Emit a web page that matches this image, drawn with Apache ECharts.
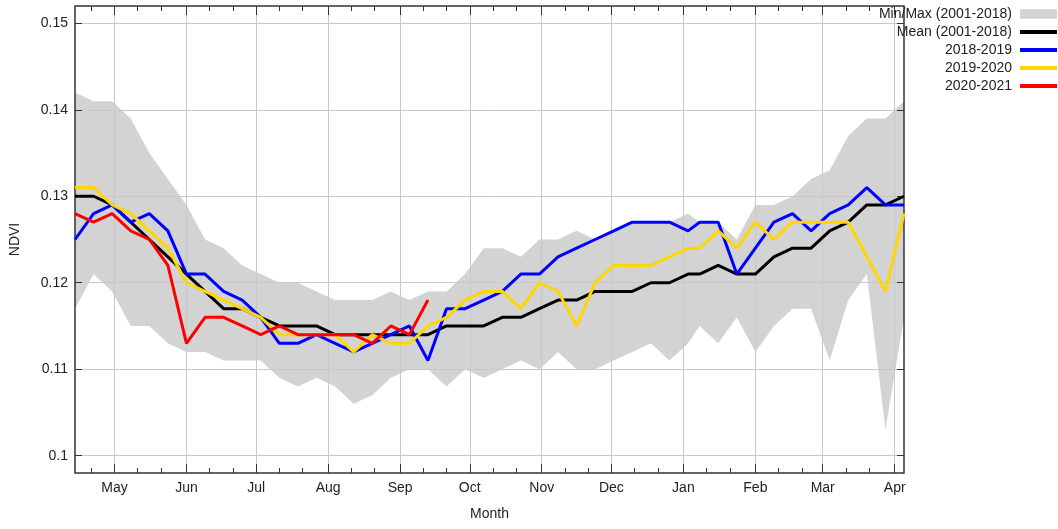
<!DOCTYPE html>
<html>
<head>
<meta charset="utf-8">
<title>NDVI</title>
<script src="https://cdn.jsdelivr.net/npm/echarts@6/dist/echarts.min.js"></script>
<style>
  html, body { margin: 0; padding: 0; background: #fff; }
  #chart { width: 1058px; height: 529px; }
</style>
</head>
<body>
<div id="chart"></div>
<script>
// 8-day composites (day of year), season runs into the next year
const compositeDoy = [
  97, 105, 113, 121, 129, 137, 145, 153, 161, 169, 177, 185, 193, 201, 209, 217, 225,
  233, 241, 249, 257, 265, 273, 281, 289, 297, 305, 313, 321, 329, 337, 345, 353, 361,
  1, 9, 17, 25, 33, 41, 49, 57, 65, 73, 81, 89
]

const maxNdvi = [
  0.142, 0.141, 0.141, 0.139, 0.135, 0.132, 0.129, 0.125, 0.124, 0.122,
  0.121, 0.120, 0.120, 0.119, 0.118, 0.118, 0.118, 0.119, 0.118, 0.119,
  0.119, 0.121, 0.124, 0.124, 0.123, 0.125, 0.125, 0.126, 0.125, 0.126,
  0.127, 0.127, 0.127, 0.128, 0.127, 0.127, 0.125, 0.129, 0.129, 0.130,
  0.132, 0.133, 0.137, 0.139, 0.139, 0.141
]
const minNdvi = [
  0.117, 0.121, 0.119, 0.115, 0.115, 0.113, 0.112, 0.112, 0.111, 0.111,
  0.111, 0.109, 0.108, 0.109, 0.108, 0.106, 0.107, 0.109, 0.110, 0.110,
  0.108, 0.110, 0.109, 0.110, 0.111, 0.110, 0.112, 0.110, 0.110, 0.111,
  0.112, 0.113, 0.111, 0.113, 0.115, 0.113, 0.116, 0.112, 0.115, 0.117,
  0.117, 0.111, 0.118, 0.121, 0.103, 0.116
]
const meanNdvi = [
  0.130, 0.130, 0.129, 0.127, 0.125, 0.123, 0.121, 0.119, 0.117, 0.117,
  0.116, 0.115, 0.115, 0.115, 0.114, 0.114, 0.114, 0.114, 0.114, 0.114,
  0.115, 0.115, 0.115, 0.116, 0.116, 0.117, 0.118, 0.118, 0.119, 0.119,
  0.119, 0.120, 0.120, 0.121, 0.121, 0.122, 0.121, 0.121, 0.123, 0.124,
  0.124, 0.126, 0.127, 0.129, 0.129, 0.130
]
const ndvi2018 = [
  0.125, 0.128, 0.129, 0.127, 0.128, 0.126, 0.121, 0.121, 0.119, 0.118,
  0.116, 0.113, 0.113, 0.114, 0.113, 0.112, 0.113, 0.114, 0.115, 0.111,
  0.117, 0.117, 0.118, 0.119, 0.121, 0.121, 0.123, 0.124, 0.125, 0.126,
  0.127, 0.127, 0.127, 0.126, 0.127, 0.127, 0.121, 0.124, 0.127, 0.128,
  0.126, 0.128, 0.129, 0.131, 0.129, 0.129
]
const ndvi2019 = [
  0.131, 0.131, 0.129, 0.128, 0.126, 0.124, 0.120, 0.119, 0.118, 0.117,
  0.116, 0.114, 0.114, 0.114, 0.114, 0.112, 0.114, 0.113, 0.113, 0.115,
  0.116, 0.118, 0.119, 0.119, 0.117, 0.120, 0.119, 0.115, 0.120, 0.122,
  0.122, 0.122, 0.123, 0.124, 0.124, 0.126, 0.124, 0.127, 0.125, 0.127,
  0.127, 0.127, 0.127, 0.123, 0.119, 0.128
]
const ndvi2020 = [
  0.128, 0.127, 0.128, 0.126, 0.125, 0.122, 0.113, 0.116, 0.116, 0.115,
  0.114, 0.115, 0.114, 0.114, 0.114, 0.114, 0.113, 0.115, 0.114, 0.118
]

const monthNames = ['May', 'Jun', 'Jul', 'Aug', 'Sep', 'Oct', 'Nov', 'Dec', 'Jan', 'Feb', 'Mar', 'Apr']
const yTicks = [0.10, 0.11, 0.12, 0.13, 0.14, 0.15]

// x = days since the first composite
let wrapped = false
const xDays = compositeDoy.map((doy, i) => {
  if (i > 0 && doy < compositeDoy[i - 1]) wrapped = true
  return wrapped ? doy + 365 - compositeDoy[0] : doy - compositeDoy[0]
})
const xMax = xDays[xDays.length - 1]

// month ticks from the season calendar
const DAY = 86400000
const axisStart = Date.UTC(2019, 3, 14)
const monthTicks = monthNames.map((_, k) => (Date.UTC(2019, 4 + k, 1) - axisStart) / DAY)
const minorTicks = []
for (let k = 0; k <= 12; k++) {
  for (const d of [11, 21]) {
    const v = (Date.UTC(2019, 3 + k, d) - axisStart) / DAY
    if (v >= 0 && v <= xMax) minorTicks.push(v)
  }
}

const pairs = (arr) => arr.map((v, i) => [xDays[i], v])

const font = "'Liberation Sans', Arial, sans-serif"
const textColor = '#222'
const tickColor = '#333'
const gridColor = '#c8c8c8'
const bandColor = '#d3d3d3'
const lineIcon = 'path://M0,0H38V4H0Z'

const xBase = {
  type: 'value',
  min: 0,
  max: xMax,
  axisLine: { show: false, onZero: false },
  splitLine: { show: false },
  axisLabel: { show: false },
}
const tickAxis = (position, length, values) => ({
  ...xBase,
  position,
  axisTick: { show: true, inside: true, length, customValues: values, lineStyle: { color: tickColor } },
})

const chart = echarts.init(document.getElementById('chart'))
chart.setOption({
  animation: false,
  textStyle: { fontFamily: font },
  grid: {
    show: true,
    left: 75,
    right: 154,
    top: 6,
    bottom: 56,
    borderColor: tickColor,
    borderWidth: 1.5,
    backgroundColor: 'transparent',
  },
  legend: {
    orient: 'vertical',
    right: 1,
    top: 7,
    padding: 0,
    align: 'right',
    itemGap: 4,
    itemWidth: 37,
    itemHeight: 14,
    itemStyle: { borderWidth: 0 },
    textStyle: { fontSize: 14, color: textColor, fontFamily: font, padding: [0, 3, 0, 0] },
    data: [
      { name: 'Min/Max (2001-2018)', icon: 'path://M0,0H38V10H0Z' },
      { name: 'Mean (2001-2018)', icon: lineIcon },
      { name: '2018-2019', icon: lineIcon },
      { name: '2019-2020', icon: lineIcon },
      { name: '2020-2021', icon: lineIcon },
    ],
  },
  xAxis: [
    {
      ...xBase,
      position: 'bottom',
      name: 'Month',
      nameLocation: 'middle',
      nameGap: 34,
      nameTextStyle: { fontSize: 14, color: textColor, fontFamily: font },
      axisTick: { show: true, inside: true, length: 9, customValues: monthTicks, lineStyle: { color: tickColor } },
      axisLabel: {
        show: true,
        customValues: monthTicks,
        margin: 8,
        fontSize: 14,
        color: textColor,
        fontFamily: font,
        formatter: (v) => {
          let best = 0
          monthTicks.forEach((t, k) => { if (Math.abs(t - v) < Math.abs(monthTicks[best] - v)) best = k })
          return monthNames[best]
        },
      },
      splitLine: { show: true, lineStyle: { color: gridColor, width: 1 } },
    },
    tickAxis('bottom', 5, minorTicks),
    tickAxis('top', 9, monthTicks),
    tickAxis('top', 5, minorTicks),
  ],
  yAxis: [
    {
      type: 'value',
      min: 0.098,
      max: 0.152,
      position: 'left',
      name: 'NDVI',
      nameLocation: 'middle',
      nameGap: 53,
      nameTextStyle: { fontSize: 14, color: textColor, fontFamily: font },
      axisLine: { show: false, onZero: false },
      axisTick: { show: true, inside: true, length: 7, customValues: yTicks, lineStyle: { color: tickColor } },
      axisLabel: {
        customValues: yTicks,
        margin: 7,
        fontSize: 14,
        color: textColor,
        fontFamily: font,
        formatter: (v) => String(Math.round(v * 100) / 100),
      },
      splitLine: { show: true, lineStyle: { color: gridColor, width: 1 } },
    },
    {
      type: 'value',
      min: 0.098,
      max: 0.152,
      position: 'right',
      axisLine: { show: false, onZero: false },
      axisTick: { show: true, inside: true, length: 7, customValues: yTicks, lineStyle: { color: tickColor } },
      axisLabel: { show: false },
      splitLine: { show: false },
    },
  ],
  series: [
    // band: gray area down from max, then white area down from min on top of it;
    // both sit below the grid lines (z < 0)
    {
      name: 'Min/Max (2001-2018)',
      type: 'line',
      z: -2,
      silent: true,
      symbol: 'none',
      color: bandColor,
      lineStyle: { width: 0, opacity: 0 },
      areaStyle: { color: bandColor, opacity: 1, origin: 'start' },
      data: pairs(maxNdvi),
    },
    {
      name: 'minBase',
      type: 'line',
      z: -1,
      silent: true,
      symbol: 'none',
      color: '#ffffff',
      lineStyle: { width: 0, opacity: 0 },
      areaStyle: { color: '#ffffff', opacity: 1, origin: 'start' },
      data: pairs(minNdvi),
    },
    {
      name: 'Mean (2001-2018)',
      type: 'line',
      symbol: 'none',
      color: '#000000',
      lineStyle: { width: 3 },
      data: pairs(meanNdvi),
    },
    {
      name: '2018-2019',
      type: 'line',
      symbol: 'none',
      color: '#0000ff',
      lineStyle: { width: 3 },
      data: pairs(ndvi2018),
    },
    {
      name: '2019-2020',
      type: 'line',
      symbol: 'none',
      color: '#ffd700',
      lineStyle: { width: 3 },
      data: pairs(ndvi2019),
    },
    {
      name: '2020-2021',
      type: 'line',
      symbol: 'none',
      color: '#ff0000',
      lineStyle: { width: 3 },
      data: pairs(ndvi2020),
    },
  ],
})
</script>
</body>
</html>
